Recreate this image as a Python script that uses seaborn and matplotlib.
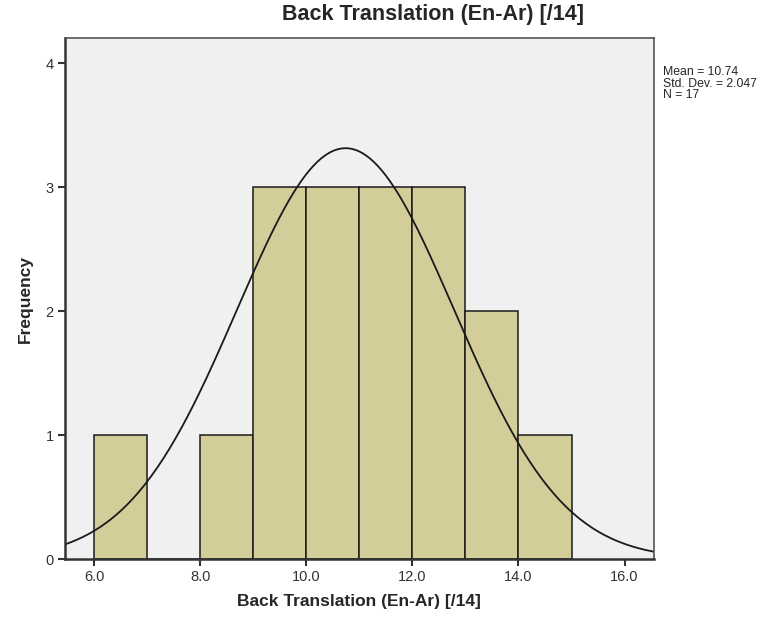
"""
SPSS-style histogram of Back Translation (En-Ar) scores with a fitted normal curve.
"""
import matplotlib
matplotlib.use("Agg")
import matplotlib.pyplot as plt
import seaborn as sns
import pandas as pd
import numpy as np

# bins of width 1 and their frequencies
bin_edges = [6, 7, 8, 9, 10, 11, 12, 13, 14, 15]
counts = [1, 0, 1, 3, 3, 3, 3, 2, 1]

mean_val = 10.74
std_val = 2.047
n_val = 17

x_ticks = [6.0, 8.0, 10.0, 12.0, 14.0, 16.0]
y_ticks = [0, 1, 2, 3, 4]

title = "Back Translation (En-Ar) [/14]"

if __name__ == "__main__":
    sns.set_theme(style="white")
    plt.rcParams["font.family"] = ["Liberation Sans", "DejaVu Sans"]

    centers = [(a + b) / 2 for a, b in zip(bin_edges[:-1], bin_edges[1:])]
    df = pd.DataFrame({"score": centers, "count": counts})

    fig = plt.figure(figsize=(7.82, 6.17), dpi=100)
    ax = fig.add_axes([0.083, 0.094, 0.753, 0.844])
    ax.set_facecolor("#f0f0f0")

    sns.histplot(data=df, x="score", weights="count", bins=bin_edges, ax=ax,
                 color="#d3ce99", edgecolor="#1a1a1a", linewidth=1.1, alpha=1)

    # normal curve scaled to counts (bin width 1)
    xs = np.linspace(5.45, 16.55, 300)
    ys = n_val * np.exp(-0.5 * ((xs - mean_val) / std_val) ** 2) / (std_val * np.sqrt(2 * np.pi))
    sns.lineplot(x=xs, y=ys, ax=ax, color="#1a1a1a", linewidth=1.3)

    ax.set_xlim(5.45, 16.55)
    ax.set_ylim(0, 4.2)
    ax.set_xticks(x_ticks)
    ax.set_xticklabels([f"{t:.1f}" for t in x_ticks], fontsize=10.5, color="#333333")
    ax.set_yticks(y_ticks)
    ax.set_yticklabels([str(t) for t in y_ticks], fontsize=10.5, color="#333333")
    ax.tick_params(axis="both", direction="out", length=5, width=1.5, color="#333333",
                   bottom=True, left=True, pad=3)

    for side in ["left", "bottom"]:
        ax.spines[side].set_color("#333333")
        ax.spines[side].set_linewidth(1.8)
    for side in ["top", "right"]:
        ax.spines[side].set_color("#555555")
        ax.spines[side].set_linewidth(1.2)

    # SPSS puts the title centred over the whole chart, not the plot area
    fig.text(0.554, 0.977, title, fontsize=15.5, fontweight="bold", ha="center", va="center")
    ax.set_xlabel(title, fontsize=12.5, fontweight="bold", labelpad=7)
    ax.set_ylabel("Frequency", fontsize=12.5, fontweight="bold", labelpad=9)

    fig.text(0.848, 0.864, f"Mean = {mean_val}\nStd. Dev. = {std_val}\nN = {n_val}",
             fontsize=8.8, va="center", ha="left", linespacing=0.95)

    fig.savefig("out.png", dpi=100, facecolor="white")
